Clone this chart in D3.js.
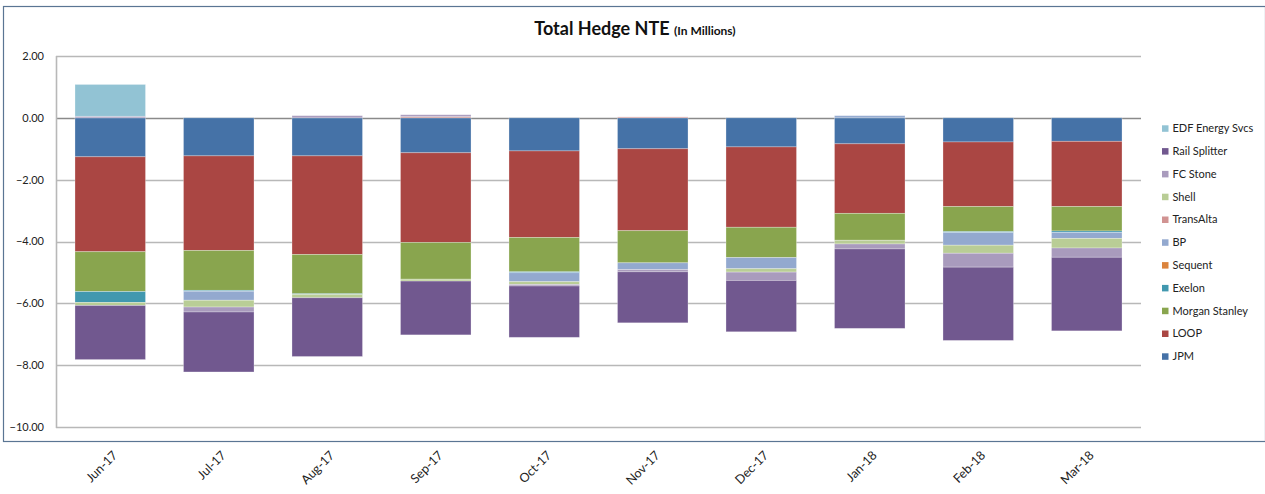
<!DOCTYPE html>
<html>
<head>
<meta charset="utf-8">
<script src="https://cdn.jsdelivr.net/npm/d3@7"></script>
<style>
  html, body { margin: 0; padding: 0; background: #fff; }
  svg { display: block; }
  text { font-family: Lato, "Open Sans", sans-serif; }
</style>
</head>
<body>
<svg id="chart" width="1265" height="494"></svg>
<script>
// ---- data (values in millions) ----
const categories = ["Jun-17","Jul-17","Aug-17","Sep-17","Oct-17","Nov-17","Dec-17","Jan-18","Feb-18","Mar-18"];
const seriesNames = ["JPM","LOOP","Morgan Stanley","Exelon","Sequent","BP","TransAlta","Shell","FC Stone","Rail Splitter","EDF Energy Svcs"];
const jpm           = [-1.26,-1.23,-1.23,-1.13,-1.07,-1.00,-0.94,-0.84,-0.78,-0.76];
const loop          = [-3.07,-3.06,-3.19,-2.90,-2.80,-2.65,-2.60,-2.25,-2.09,-2.11];
const morganStanley = [-1.29,-1.29,-1.27,-1.19,-1.11,-1.04,-0.98,-0.87,-0.81,-0.79];
const exelon        = [-0.35,-0.03,-0.02, 0.00,-0.03, 0.00, 0.00, 0.00,-0.03,-0.05];
const sequent       = [ 0.00, 0.00, 0.00, 0.00, 0.00, 0.00, 0.00, 0.00, 0.00, 0.00];
const bp            = [ 0.00,-0.29, 0.00, 0.00,-0.29,-0.22,-0.36, 0.07,-0.41,-0.19];
const transAlta     = [ 0.00, 0.00, 0.00, 0.04, 0.00, 0.03, 0.00, 0.00, 0.00, 0.00];
const shell         = [-0.10,-0.22,-0.11,-0.06,-0.09, 0.00,-0.11,-0.12,-0.26,-0.31];
const fcStone       = [ 0.05,-0.16, 0.07, 0.06,-0.05,-0.07,-0.27,-0.16,-0.45,-0.30];
const railSplitter  = [-1.75,-1.94,-1.90,-1.74,-1.66,-1.65,-1.66,-2.57,-2.37,-2.38];
const edf           = [ 1.03, 0.00, 0.00, 0.00, 0.00, 0.00, 0.00, 0.00, 0.00, 0.00];
const yTicks = [2,0,-2,-4,-6,-8,-10];
const seriesColors = ["#4572A7","#AA4643","#89A54E","#4198AF","#DB843D","#93A9CF","#D19392","#B9CD96","#A99BBD","#71588F","#92C3D4"];

const seriesValues = [jpm, loop, morganStanley, exelon, sequent, bp, transAlta, shell, fcStone, railSplitter, edf];
const table = categories.map((c, i) => {
  const row = { cat: c };
  seriesNames.forEach((s, k) => row[s] = seriesValues[k][i]);
  return row;
});

// ---- layout ----
const svg = d3.select("#chart");
const plot = { left: 56, right: 1141, top: 56, bottom: 427 };

// chart border
svg.append("rect")
  .attr("x", 3.5).attr("y", 6.5)
  .attr("width", 1262).attr("height", 435)
  .attr("fill", "none").attr("stroke", "#5a7593").attr("stroke-width", 1.2);

const x = d3.scaleBand().domain(categories).range([plot.left, plot.right]).paddingInner(0.35).paddingOuter(0.175);
const y = d3.scaleLinear().domain([-10, 2]).range([plot.bottom, plot.top]);

// gridlines
svg.append("g").selectAll("line").data(yTicks).join("line")
  .attr("x1", plot.left).attr("x2", plot.right)
  .attr("y1", d => Math.round(y(d)) + 0.5).attr("y2", d => Math.round(y(d)) + 0.5)
  .attr("stroke", d => d === 0 ? "#8a8a8a" : "#b8b8b8")
  .attr("stroke-width", 1.6);

// y axis line
svg.append("line")
  .attr("x1", plot.left + 0.5).attr("x2", plot.left + 0.5)
  .attr("y1", plot.top).attr("y2", plot.bottom + 1)
  .attr("stroke", "#b8b8b8").attr("stroke-width", 1.6);

// y tick labels
svg.append("g").selectAll("text").data(yTicks).join("text")
  .attr("x", 44).attr("y", d => y(d))
  .attr("dy", "0.35em")
  .attr("text-anchor", "end")
  .attr("font-size", 11).attr("fill", "#222")
  .text(d => d3.format(".2f")(d));

// stacked bars
const stack = d3.stack().keys(seriesNames).offset(d3.stackOffsetDiverging);
const layers = stack(table);
const g = svg.append("g");
layers.forEach((layer, k) => {
  g.append("g").attr("fill", seriesColors[k])
    .selectAll("rect").data(layer.filter(d => Math.abs(d[1] - d[0]) > 0)).join("rect")
    .attr("x", d => x(d.data.cat))
    .attr("width", x.bandwidth())
    .attr("y", d => y(Math.max(d[0], d[1])))
    .attr("height", d => Math.abs(y(d[0]) - y(d[1])))
    .attr("stroke", "rgba(255,255,255,0.35)")
    .attr("stroke-width", 0.8);
});

// x labels (rotated, below chart frame)
svg.append("g").selectAll("text").data(categories).join("text")
  .attr("transform", d => `translate(${x(d) + x.bandwidth() / 2 + 8},456) rotate(-45)`)
  .attr("text-anchor", "end")
  .attr("font-family", "'DejaVu Sans', sans-serif")
  .attr("font-size", 12.5).attr("fill", "#222")
  .text(d => d);

// title
const title = svg.append("text")
  .attr("x", 635).attr("y", 35)
  .attr("text-anchor", "middle")
  .attr("font-weight", "bold").attr("fill", "#111");
title.append("tspan").attr("font-size", 18).text("Total Hedge NTE ");
title.append("tspan").attr("font-size", 12).text("(In Millions)");

// legend (reverse order)
const legendItems = seriesNames.map((n, k) => ({ name: n, color: seriesColors[k] })).reverse();
const lg = svg.append("g").selectAll("g").data(legendItems).join("g")
  .attr("transform", (d, i) => `translate(1162,${128.3 + i * 22.8})`);
lg.append("rect").attr("x", 0).attr("y", -3).attr("width", 6.5).attr("height", 6.5).attr("fill", d => d.color);
lg.append("text").attr("x", 10.5).attr("y", 0).attr("dy", "0.35em")
  .attr("font-size", 11).attr("fill", "#222").text(d => d.name);
</script>
</body>
</html>
